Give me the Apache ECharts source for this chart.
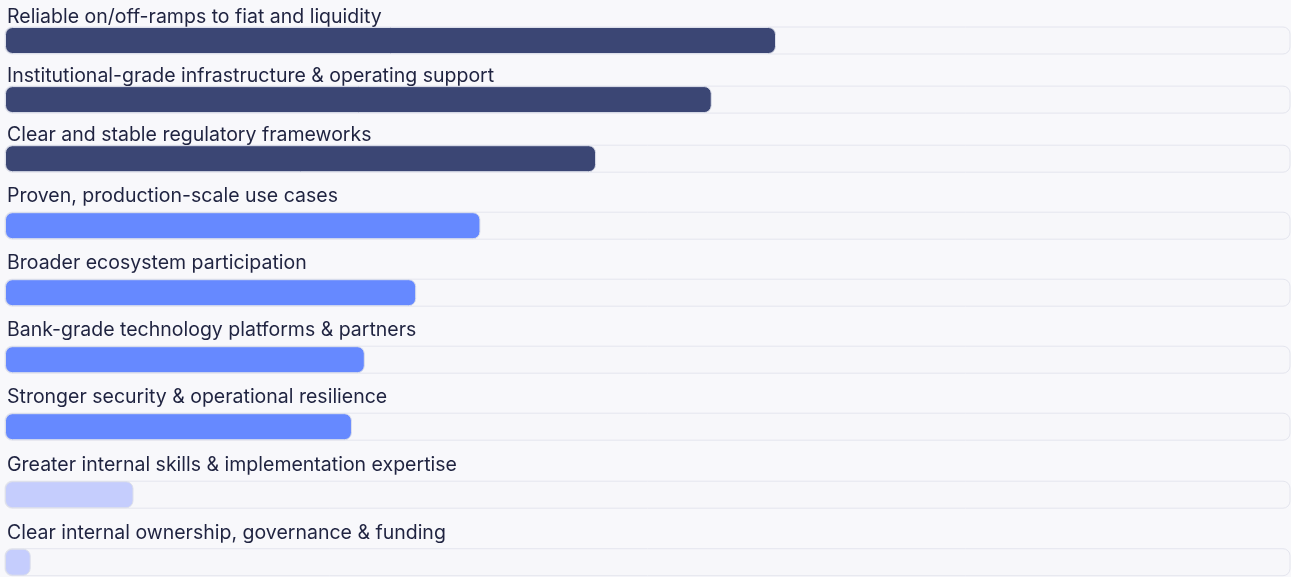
<!DOCTYPE html>
<html>
<head>
<meta charset="utf-8">
<script src="https://cdn.jsdelivr.net/npm/echarts@6/dist/echarts.min.js"></script>
<style>
  html, body { margin: 0; padding: 0; background: #f8f8fb; }
  #chart { width: 1291px; height: 577px; }
</style>
</head>
<body>
<div id="chart"></div>
<script>
// Enablers, grouped by tier (share of respondents, %)
const tier1Labels = [
  'Reliable on/off-ramps to fiat and liquidity',
  'Institutional-grade infrastructure & operating support',
  'Clear and stable regulatory frameworks'
];
const tier1Values = [60, 55, 46];

const tier2Labels = [
  'Proven, production-scale use cases',
  'Broader ecosystem participation',
  'Bank-grade technology platforms & partners',
  'Stronger security & operational resilience'
];
const tier2Values = [37, 32, 28, 27];

const tier3Labels = [
  'Greater internal skills & implementation expertise',
  'Clear internal ownership, governance & funding'
];
const tier3Values = [10, 2];

const tierColors = ['#3b4674', '#6689ff', '#c5cdfd'];

const FONT = 'Inter, "Noto Sans", sans-serif';
const TEXT = '#1f2340';

const chart = echarts.init(document.getElementById('chart'), null, { renderer: 'canvas' });

// each tier sits in its own grid; rows are placed on category ticks (first row at top edge, last at bottom edge)
const groups = [
  { labels: tier1Labels, values: tier1Values, color: tierColors[0], top: 40.5, height: 118.2, lift: 0 },
  { labels: tier2Labels, values: tier2Values, color: tierColors[1], top: 225.7, height: 201, lift: -6 },
  { labels: tier3Labels, values: tier3Values, color: tierColors[2], top: 494.7, height: 67.5, lift: -6 }
];

const grid = [], xAxis = [], yAxis = [], series = [];
groups.forEach((g, i) => {
  grid.push({ left: 5, right: 1, top: g.top, height: g.height, containLabel: false });
  xAxis.push({
    type: 'value', gridIndex: i, min: 0, max: 100,
    show: false, splitLine: { show: false }
  });
  yAxis.push({
    type: 'category', gridIndex: i, data: g.labels, inverse: true, boundaryGap: false,
    axisLine: { show: false }, axisTick: { show: false }, axisLabel: { show: false },
    splitLine: { show: false }
  });
  series.push({
    type: 'bar', xAxisIndex: i, yAxisIndex: i,
    data: g.values,
    barWidth: 27,
    clip: false,
    showBackground: true,
    backgroundStyle: {
      color: '#f7f7fa',
      borderColor: '#e4e5ee',
      borderWidth: 1,
      borderRadius: 7
    },
    itemStyle: {
      color: g.color,
      borderColor: '#dcdfea',
      borderWidth: 1,
      borderRadius: 7
    },
    label: {
      show: true,
      position: [2, g.lift],
      align: 'left',
      verticalAlign: 'bottom',
      formatter: p => p.name,
      color: TEXT,
      fontFamily: FONT,
      fontSize: 19.5,
      fontWeight: 400
    },
    silent: true,
    animation: false
  });
});

chart.setOption({
  backgroundColor: '#f8f8fb',
  animation: false,
  grid, xAxis, yAxis, series
});
</script>
</body>
</html>
